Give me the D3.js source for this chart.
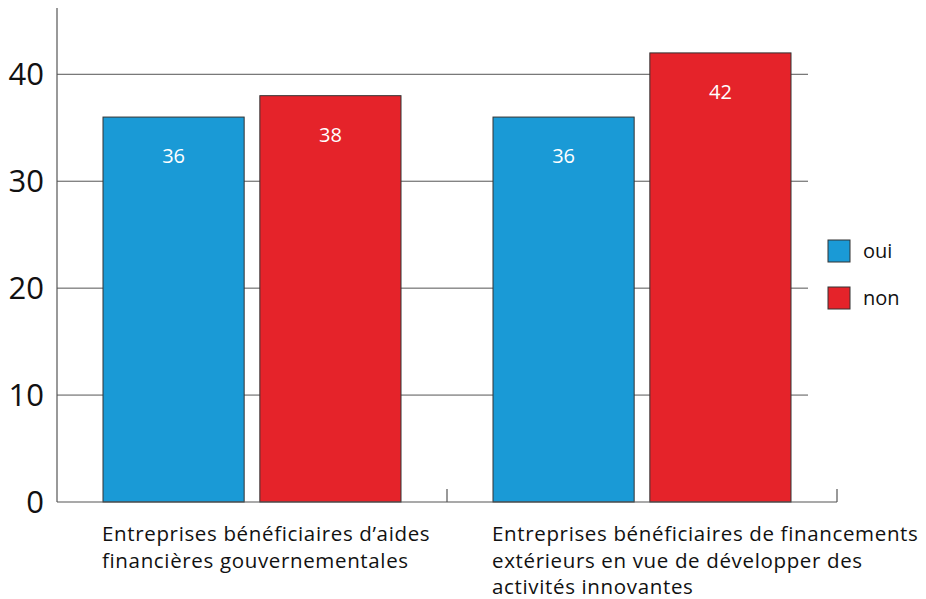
<!DOCTYPE html>
<html>
<head>
<meta charset="utf-8">
<script src="https://cdn.jsdelivr.net/npm/d3@7"></script>
<style>
  html, body { margin: 0; padding: 0; background: #fff; }
  svg { display: block; font-family: "Open Sans", "DejaVu Sans", sans-serif; }
</style>
</head>
<body>
<svg id="chart" width="926" height="599"></svg>
<script>
// Chart data
const categories = [
  ["Entreprises bénéficiaires d’aides", "financières gouvernementales"],
  ["Entreprises bénéficiaires de financements", "extérieurs en vue de développer des", "activités innovantes"]
];
const seriesNames = ["oui", "non"];
const ouiValues = [36, 36];
const nonValues = [38, 42];
const yTicks = [0, 10, 20, 30, 40];
const colors = ["#1a9ad6", "#e5232a"];

const svg = d3.select("#chart");

const x0 = 57, x1 = 837, yBase = 502, yTop = 8;
const y = d3.scaleLinear().domain([0, 46.2]).range([yBase, yTop]);
const xGroup = d3.scaleBand().domain(d3.range(categories.length)).range([x0, x1]).paddingInner(0).paddingOuter(0);
const xSeries = d3.scaleBand().domain(seriesNames).range([46, xGroup.bandwidth() - 46]).paddingInner(0.1).paddingOuter(0);

// Horizontal gridlines
svg.append("g")
  .selectAll("line")
  .data(yTicks.filter(d => d > 0))
  .join("line")
  .attr("x1", x0).attr("x2", 808)
  .attr("y1", d => y(d)).attr("y2", d => y(d))
  .attr("stroke", "#555").attr("stroke-width", 1);

// Y axis line and tick labels
svg.append("line")
  .attr("x1", x0).attr("x2", x0)
  .attr("y1", yTop).attr("y2", yBase)
  .attr("stroke", "#555").attr("stroke-width", 1.2);

svg.append("g")
  .selectAll("text")
  .data(yTicks)
  .join("text")
  .attr("x", 44)
  .attr("y", d => y(d))
  .attr("dy", "0.36em")
  .attr("text-anchor", "end")
  .attr("font-size", 31)
  .attr("fill", "#111")
  .text(d => d);

// Bars
const rows = categories.map((c, i) => ({ i, values: [ouiValues[i], nonValues[i]] }));
const groups = svg.append("g")
  .selectAll("g")
  .data(rows)
  .join("g")
  .attr("transform", d => `translate(${xGroup(d.i)},0)`);

groups.selectAll("rect")
  .data(d => d.values.map((v, k) => ({ v, k })))
  .join("rect")
  .attr("x", d => xSeries(seriesNames[d.k]))
  .attr("y", d => y(d.v))
  .attr("width", xSeries.bandwidth())
  .attr("height", d => yBase - y(d.v))
  .attr("fill", d => colors[d.k])
  .attr("stroke", "#333")
  .attr("stroke-width", 1);

groups.selectAll("text.val")
  .data(d => d.values.map((v, k) => ({ v, k })))
  .join("text")
  .attr("class", "val")
  .attr("x", d => xSeries(seriesNames[d.k]) + xSeries.bandwidth() / 2)
  .attr("y", d => y(d.v) + 39)
  .attr("dy", "0.36em")
  .attr("text-anchor", "middle")
  .attr("font-size", 20)
  .attr("fill", "#fff")
  .text(d => d.v);

// X axis line with group separators
svg.append("line")
  .attr("x1", x0).attr("x2", x1)
  .attr("y1", yBase).attr("y2", yBase)
  .attr("stroke", "#555").attr("stroke-width", 1.2);

svg.append("g")
  .selectAll("line")
  .data(d3.range(1, categories.length + 1))
  .join("line")
  .attr("x1", d => x0 + d * xGroup.bandwidth())
  .attr("x2", d => x0 + d * xGroup.bandwidth())
  .attr("y1", yBase - 13).attr("y2", yBase)
  .attr("stroke", "#555").attr("stroke-width", 1.2);

// Category labels
categories.forEach((lines, i) => {
  const t = svg.append("text")
    .attr("x", xGroup(i) + 45)
    .attr("y", 541)
    .attr("font-size", 20.5)
    .attr("letter-spacing", 0.65)
    .attr("fill", "#111");
  lines.forEach((ln, j) => {
    t.append("tspan")
      .attr("x", xGroup(i) + 45)
      .attr("y", 541 + j * 26.5)
      .text(ln);
  });
});

// Legend
const legend = svg.append("g").attr("transform", "translate(828,240)");
seriesNames.forEach((s, k) => {
  const g = legend.append("g").attr("transform", `translate(0,${k * 47})`);
  g.append("rect")
    .attr("width", 22).attr("height", 22)
    .attr("fill", colors[k]).attr("stroke", "#333").attr("stroke-width", 1);
  g.append("text")
    .attr("x", 35).attr("y", 11).attr("dy", "0.36em")
    .attr("font-size", 20).attr("fill", "#111")
    .text(s);
});
</script>
</body>
</html>
